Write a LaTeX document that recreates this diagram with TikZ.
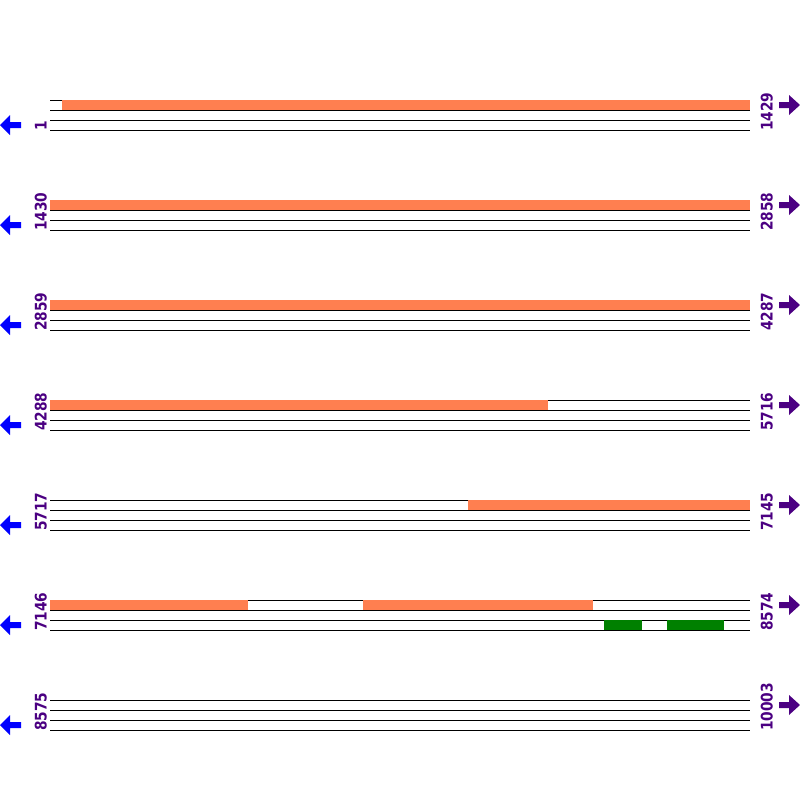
\documentclass[tikz,border=0pt]{standalone}
\usepackage{fontspec}
\setmainfont{DejaVu Sans}
\newcommand{\numtxt}[1]{\scalebox{0.86}[1]{#1}}
\begin{document}
\begin{tikzpicture}[x=1pt,y=-1pt,
  seqline/.style={black,line width=1pt},
  orangebar/.style={fill={rgb,255:red,255;green,127;blue,80},draw=none},
  greenbar/.style={fill={rgb,255:red,0;green,128;blue,0},draw=none},
  numlabel/.style={text={rgb,255:red,75;green,0;blue,130},font=\fontsize{16}{16}\selectfont\bfseries,rotate=90,inner sep=0pt,anchor=base west},
  leftarrow/.style={fill={rgb,255:red,0;green,0;blue,255},draw=none},
  rightarrow/.style={fill={rgb,255:red,75;green,0;blue,130},draw=none}]
\useasboundingbox (0,0) rectangle (800,800);
% rows
\foreach \b/\l/\r in {100/1/1429,200/1430/2858,300/2859/4287,400/4288/5716,500/5717/7145,600/7146/8574,700/8575/10003}{
  \foreach \d in {0,10,20,30}{\draw[seqline] (50,\b+\d) -- (750,\b+\d);}
  \node[numlabel] (L\b) at (46.5,\b+31) {\numtxt{\l}};
  \node[numlabel] (R\b) at (772.5,\b+31) {\numtxt{\r}};
  \fill[leftarrow] (0,\b+25) -- (10,\b+15) -- (10,\b+22) -- (21,\b+22) -- (21,\b+28) -- (10,\b+28) -- (10,\b+35) -- cycle;
  \fill[rightarrow] (800,\b+5) -- (789,\b-5) -- (789,\b+2) -- (779,\b+2) -- (779,\b+8) -- (789,\b+8) -- (789,\b+15) -- cycle;
}
% orange bars
\fill[orangebar] (62,100) rectangle (750,110);
\fill[orangebar] (50,200) rectangle (750,210);
\fill[orangebar] (50,300) rectangle (750,310);
\fill[orangebar] (50,400) rectangle (548,410);
\fill[orangebar] (468,500) rectangle (750,510);
\fill[orangebar] (50,600) rectangle (248,610);
\fill[orangebar] (363,600) rectangle (593,610);
% green bars
\fill[greenbar] (604,620) rectangle (642,630);
\fill[greenbar] (667,620) rectangle (724,630);
\end{tikzpicture}
\end{document}
